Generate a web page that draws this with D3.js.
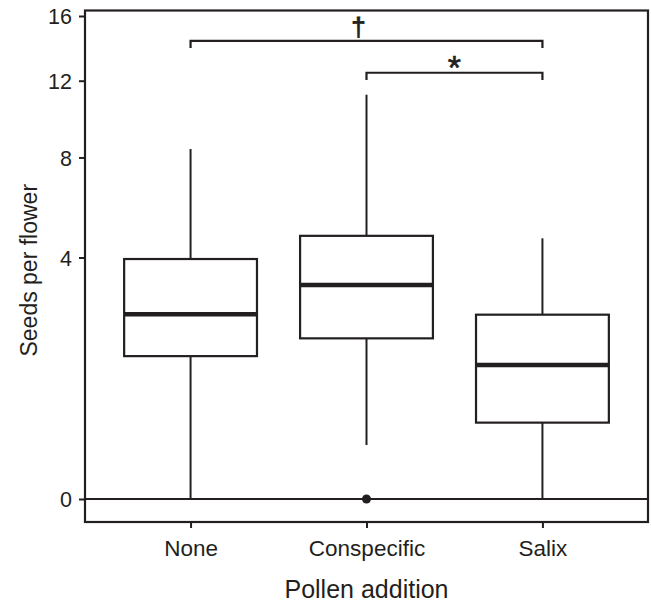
<!DOCTYPE html>
<html>
<head>
<meta charset="utf-8">
<script src="https://cdn.jsdelivr.net/npm/d3@7"></script>
<style>
  html, body { margin: 0; padding: 0; background: #fff; }
  svg { display: block; font-family: "Liberation Sans", Arial, Helvetica, sans-serif; }
</style>
</head>
<body>
<svg id="chart" width="651" height="603"></svg>
<script>
// ---- data ----
const categories = ["None", "Conspecific", "Salix"];
const whiskerLow  = [0, 0.2, 0];
const q1          = [1.40, 1.77, 0.40];
const medians     = [2.34, 3.14, 1.23];
const q3          = [3.95, 4.75, 2.33];
const whiskerHigh = [8.40, 11.21, 4.66];
const outlierCat  = ["Conspecific"];
const outlierVal  = [0];
const yTicks = [0, 4, 8, 12, 16];
// significance brackets
const bracketFrom  = ["None", "Conspecific"];
const bracketTo    = ["Salix", "Salix"];
const bracketLevel = [14.39, 12.46];
const bracketTip   = [13.95, 12.04];
const bracketLabel = ["†", "*"];

// ---- layout ----
const frame = { left: 85, right: 648, top: 10.5, bottom: 522 };
const ink = "#231f20";

const svg = d3.select("#chart");

const x = d3.scalePoint().domain(categories).range([frame.left, frame.right]).padding(0.6);
const y = d3.scaleSqrt().domain([0, 16]).range([499, 16]);
const boxW = x.step() * 0.755;

// frame
svg.append("rect")
  .attr("x", frame.left).attr("y", frame.top)
  .attr("width", frame.right - frame.left).attr("height", frame.bottom - frame.top)
  .attr("fill", "none").attr("stroke", ink).attr("stroke-width", 2.2);

// zero reference line
svg.append("line")
  .attr("x1", frame.left).attr("x2", frame.right)
  .attr("y1", y(0)).attr("y2", y(0))
  .attr("stroke", ink).attr("stroke-width", 2);

// y axis
const yAxis = d3.axisLeft(y).tickValues(yTicks).tickSize(6).tickPadding(7).tickFormat(d3.format("d"));
const gy = svg.append("g").attr("transform", `translate(${frame.left},0)`).call(yAxis);
gy.select(".domain").remove();
gy.selectAll(".tick line").attr("stroke", ink).attr("stroke-width", 2);
gy.selectAll(".tick text").attr("fill", ink).style("font-size", "21.5px")
  .attr("dy", "0.36em").attr("font-family", "Liberation Sans, Arial, sans-serif");

// x axis
const xAxis = d3.axisBottom(x).tickSize(6).tickPadding(12);
const gx = svg.append("g").attr("transform", `translate(0,${frame.bottom})`).call(xAxis);
gx.select(".domain").remove();
gx.selectAll(".tick line").attr("stroke", ink).attr("stroke-width", 2);
gx.selectAll(".tick text").attr("fill", ink).style("font-size", "22.5px")
  .attr("font-family", "Liberation Sans, Arial, sans-serif");

// boxes
const data = categories.map((c, i) => ({
  c, lo: whiskerLow[i], q1: q1[i], med: medians[i], q3: q3[i], hi: whiskerHigh[i]
}));

const g = svg.append("g");
const box = g.selectAll("g.box").data(data).join("g").attr("class", "box");

box.append("line") // upper whisker
  .attr("x1", d => x(d.c)).attr("x2", d => x(d.c))
  .attr("y1", d => y(d.q3)).attr("y2", d => y(d.hi))
  .attr("stroke", ink).attr("stroke-width", 2);
box.append("line") // lower whisker
  .attr("x1", d => x(d.c)).attr("x2", d => x(d.c))
  .attr("y1", d => y(d.q1)).attr("y2", d => y(d.lo))
  .attr("stroke", ink).attr("stroke-width", 2);
box.append("rect")
  .attr("x", d => x(d.c) - boxW / 2).attr("width", boxW)
  .attr("y", d => y(d.q3)).attr("height", d => y(d.q1) - y(d.q3))
  .attr("fill", "#fff").attr("stroke", ink).attr("stroke-width", 2.2);
box.append("line") // median
  .attr("x1", d => x(d.c) - boxW / 2).attr("x2", d => x(d.c) + boxW / 2)
  .attr("y1", d => y(d.med)).attr("y2", d => y(d.med))
  .attr("stroke", ink).attr("stroke-width", 4.5);

// outliers
g.selectAll("circle.out").data(outlierCat.map((c, i) => ({ c, v: outlierVal[i] })))
  .join("circle").attr("class", "out")
  .attr("cx", d => x(d.c)).attr("cy", d => y(d.v)).attr("r", 4.5).attr("fill", ink);

// significance brackets
const br = bracketFrom.map((f, i) => ({ f, t: bracketTo[i], lvl: bracketLevel[i], tip: bracketTip[i], lab: bracketLabel[i] }));
const bg = svg.append("g");
bg.selectAll("path.br").data(br).join("path").attr("class", "br")
  .attr("d", d => `M${x(d.f)},${y(d.tip)}V${y(d.lvl)}H${x(d.t)}V${y(d.tip)}`)
  .attr("fill", "none").attr("stroke", ink).attr("stroke-width", 2.2);

bg.selectAll("text.lab").data(br).join("text").attr("class", "lab")
  .attr("x", d => d.lab === "†" ? (x(d.f) + x(d.t)) / 2 - 8 : (x(d.f) + x(d.t)) / 2)
  .attr("y", d => d.lab === "†" ? y(d.lvl) - 5 : y(d.lvl) + 6)
  .attr("text-anchor", "middle")
  .attr("fill", ink)
  .attr("stroke", ink)
  .attr("stroke-width", d => d.lab === "†" ? 0.8 : 0.6)
  .style("font-size", d => d.lab === "†" ? "26px" : "34px")
  .text(d => d.lab);

// axis titles
svg.append("text")
  .attr("x", (frame.left + frame.right) / 2).attr("y", 598)
  .attr("text-anchor", "middle").attr("fill", ink).style("font-size", "25px")
  .text("Pollen addition");
svg.append("text")
  .attr("transform", `translate(37,${(frame.top + frame.bottom) / 2 + 4}) rotate(-90)`)
  .attr("text-anchor", "middle").attr("fill", ink).style("font-size", "23px")
  .text("Seeds per flower");
</script>
</body>
</html>
